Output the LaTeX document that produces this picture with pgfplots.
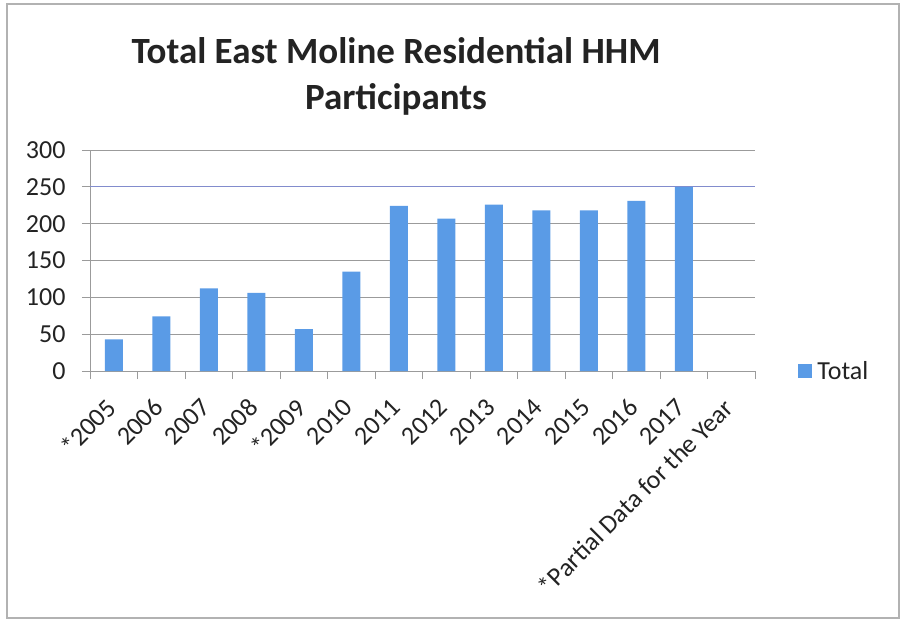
\documentclass[border=0pt]{standalone}
\usepackage{pgfplots}
\pgfplotsset{compat=1.18}
\usepackage{fontspec}
\setmainfont{Carlito}
\definecolor{barblue}{RGB}{90,155,230}
\definecolor{gridgray}{RGB}{155,155,155}
\definecolor{bluegrid}{RGB}{130,140,205}
\definecolor{txt}{RGB}{35,35,35}
\begin{document}
\begin{tikzpicture}[x=1pt,y=1pt]
\path[use as bounding box] (0,0) rectangle (904,622);
\draw[gray!60, line width=1.2pt] (7,4) rectangle (899,618);
\begin{axis}[
    at={(90pt,251pt)}, anchor=south west,
    scale only axis,
    width=665pt, height=221pt,
    xmin=-0.5, xmax=13.5,
    ymin=0, ymax=300,
    ytick={0,50,...,300},
    xtick={0,...,13},
    xticklabels={*2005,2006,2007,2008,*2009,2010,2011,2012,2013,2014,2015,2016,2017,*Partial Data for the Year},
    minor xtick={-0.5,0.5,...,13.5},
    axis x line*=bottom, axis y line*=left,
    axis line style={gridgray, line width=1pt},
    every outer x axis line/.append style={-},
    every outer y axis line/.append style={-},
    tick align=outside,
    x tick style={draw=none},
    minor x tick style={draw=gridgray, line width=1pt},
    minor tick length=8pt,
    y tick style={draw=gridgray, line width=1pt},
    major tick length=8pt,
    ymajorgrids,
    major grid style={gridgray, line width=1pt},
    tick label style={font=\fontsize{26}{30}\selectfont, text=txt},
    /pgf/number format/assume math mode=true,
    yticklabel style={xshift=-13pt},
    xticklabel style={rotate=45, anchor=north east, inner sep=1pt, yshift=-5pt, xshift=-18pt},
    legend style={at={(1.065,0)}, anchor=west, draw=none, fill=none,
        font=\fontsize{26}{30}\selectfont, text=txt, inner sep=0pt,
        nodes={inner xsep=5pt}},
    legend image code/.code={\fill[barblue] (0pt,-7pt) rectangle (14pt,7pt);},
]
\draw[bluegrid, line width=1pt] (axis cs:-0.5,250) -- (axis cs:13.5,250);
\addplot[ybar, bar width=18pt, fill=barblue, draw=none] coordinates {
    (0,43) (1,74) (2,112) (3,106) (4,57) (5,135) (6,224)
    (7,207) (8,226) (9,218) (10,218) (11,231) (12,250)
};
\addlegendentry{Total}
\end{axis}
\node[font=\bfseries\fontsize{37}{46}\selectfont, text=txt, align=center] at (396,546)
    {Total East Moline Residential HHM\\Participants};
\end{tikzpicture}
\end{document}
